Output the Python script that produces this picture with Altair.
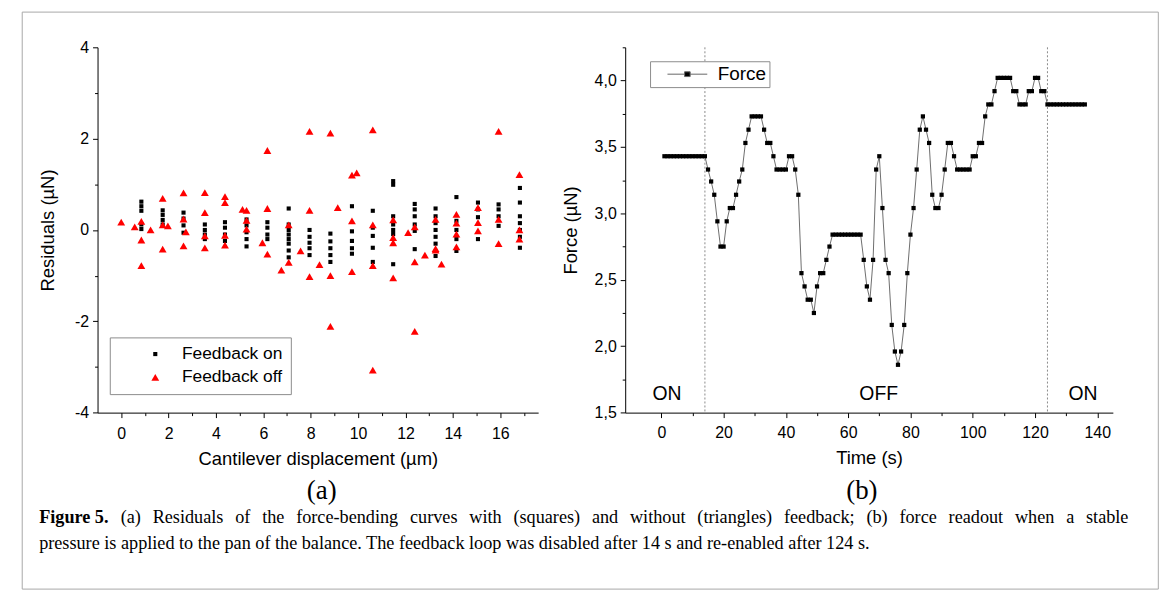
import altair as alt
import pandas as pd

# ---------------- (a) Residuals ----------------
series_a = ["Feedback on", "Feedback off"]

on_x = ([0.85] * 5 + [1.75] * 4 + [2.63] * 4 + [3.53] * 4 + [4.38] * 4 + [5.29] * 5
        + [6.17] * 4 + [7.07] * 8 + [7.95] * 5 + [8.83] * 5 + [9.74] * 5 + [10.62] * 5
        + [11.48] * 7 + [12.39] * 6 + [13.27] * 7 + [14.15] * 5 + [15.06] * 4
        + [15.93] * 4 + [16.83] * 7)
on_y = [0.62, 0.52, 0.42, 0.12, 0.02,
        0.43, 0.33, 0.22, 0.12,
        0.38, 0.25, 0.10, -0.06,
        0.12, 0.00, -0.10, -0.20,
        0.17, 0.05, -0.10, -0.24,
        0.23, 0.10, -0.05, -0.20, -0.36,
        0.17, 0.05, -0.10, -0.20,
        0.47, 0.12, 0.00, -0.10, -0.20, -0.30, -0.45, -0.60,
        0.00, -0.15, -0.28, -0.40, -0.55,
        -0.08, -0.25, -0.40, -0.55, -0.70,
        0.52, -0.03, -0.24, -0.40, -0.52,
        0.42, 0.05, -0.13, -0.39, -0.70,
        1.07, 0.99, 0.30, 0.12, 0.00, -0.09, -0.75,
        0.57, 0.45, 0.30, 0.12, -0.02, -0.42,
        0.47, 0.30, 0.15, 0.00, -0.15, -0.30, -0.57,
        0.72, 0.20, 0.00, -0.20, -0.46,
        0.60, 0.45, 0.28, -0.20,
        0.56, 0.45, 0.30, 0.09,
        0.92, 0.60, 0.30, 0.15, 0.00, -0.15, -0.39]

off_x = [0.00, 0.57, 0.85, 0.85, 0.85, 1.24,
         1.75, 1.75, 1.75, 1.97,
         2.63, 2.63, 2.63, 2.73,
         3.53, 3.53, 3.53, 3.53,
         4.38, 4.38, 4.38, 4.38,
         5.12, 5.29, 5.29, 5.29,
         6.17, 6.17, 6.17, 5.96,
         7.07, 7.07, 6.76, 7.57,
         7.95, 7.95, 7.95, 8.37,
         8.83, 8.83, 8.83, 9.14,
         9.74, 9.74, 9.74, 9.94,
         10.62, 10.62, 10.62, 10.62,
         11.48, 11.48, 11.48, 11.48, 12.11,
         12.39, 12.39, 12.39, 12.82,
         13.27, 13.27, 13.27, 13.52,
         14.15, 14.15, 14.15, 14.15,
         15.06, 15.06, 15.06,
         15.93, 15.93, 15.93,
         16.81, 16.81, 16.81]
off_y = [0.17, 0.07, 0.19, -0.22, -0.78, 0.00,
         0.69, 0.11, -0.42, 0.09,
         0.81, 0.24, -0.35, -0.04,
         0.82, 0.38, -0.13, -0.39,
         0.73, 0.60, -0.12, -0.33,
         0.45, 0.43, 0.21, 0.02,
         1.74, 0.47, -0.53, -0.28,
         0.11, -0.71, -0.88, -0.46,
         2.16, 0.43, -1.02, -0.76,
         2.12, -1.00, -2.11, 0.49,
         1.20, 0.20, -0.91, 1.25,
         2.19, 0.11, -0.78, -3.07,
         0.22, -0.17, -0.28, -1.05, -0.06,
         0.07, -0.70, -2.22, -0.55,
         0.23, -0.41, -0.44, -0.75,
         0.34, 0.15, -0.09, -0.37,
         0.49, 0.16, -0.02,
         2.16, 0.23, -0.30,
         1.21, 0.00, -0.20]

# ---------------- (b) Force readout ----------------
time_s = list(range(1, 137))
force = ([3.43] * 14
         + [3.33, 3.24, 3.14, 2.94, 2.75, 2.75, 2.94, 3.04, 3.04, 3.14, 3.24, 3.33, 3.53, 3.63]
         + [3.73] * 4
         + [3.63, 3.53, 3.53, 3.43]
         + [3.33] * 4
         + [3.43, 3.43, 3.33, 3.14, 2.55, 2.45, 2.35, 2.35, 2.25, 2.45, 2.55, 2.55, 2.65, 2.75]
         + [2.84] * 10
         + [2.65, 2.45, 2.35, 2.65, 3.33, 3.43, 3.04, 2.65, 2.55, 2.16, 1.96, 1.86, 1.96, 2.16,
            2.55, 2.84, 3.04, 3.33, 3.63, 3.73, 3.63, 3.53, 3.14, 3.04, 3.04, 3.14, 3.33,
            3.53, 3.53, 3.43]
         + [3.33] * 5
         + [3.43, 3.43, 3.53, 3.53, 3.73, 3.82, 3.82, 3.92]
         + [4.02] * 5
         + [3.92, 3.92, 3.82, 3.82, 3.82, 3.92, 3.92, 4.02, 4.02, 3.92, 3.92]
         + [3.82] * 13)
switch_t = [14, 124]
state_label = ["ON", "OFF", "ON"]
state_t = [1.8, 69.8, 135.4]
state_f = [1.64, 1.64, 1.64]

x_ticks_a = list(range(0, 18))
y_ticks_a = list(range(-4, 5))
x_ticks_b = list(range(0, 141, 10))
y_ticks_b = [1.5, 1.75, 2.0, 2.25, 2.5, 2.75, 3.0, 3.25, 3.5, 3.75, 4.0, 4.25]

caption_bold = "Figure 5."
caption_1 = ("(a) Residuals of the force-bending curves with (squares) and without "
             "(triangles) feedback; (b) force readout when a stable")
caption_2 = ("pressure is applied to the pan of the balance. The feedback loop was "
             "disabled after 14 s and re-enabled after 124 s.")

SANS = "Liberation Sans"
SERIF = "Liberation Serif"

# ---------------- layout numbers ----------------
WA, HA = 442.9, 367.2
WB, HB = 490.2, 367.2
OX = 96.7          # page x of panel (a) plot origin
CAP_SIZE = 18.3

# Times / Liberation Serif advance widths (1/1000 em) for justifying the first caption line
_REG = {" ": 250, "(": 333, ")": 333, ",": 250, "-": 333, ".": 250, ";": 278,
        "a": 444, "b": 500, "c": 444, "d": 500, "e": 444, "f": 333, "g": 500, "h": 500,
        "i": 278, "j": 278, "k": 500, "l": 278, "m": 778, "n": 500, "o": 500, "p": 500,
        "q": 500, "r": 333, "s": 389, "t": 278, "u": 500, "v": 500, "w": 722, "x": 500,
        "y": 500, "z": 444, "R": 667, "T": 611}
_BOLD = {"F": 611, "i": 278, "g": 500, "u": 556, "r": 444, "e": 444, " ": 250, "5": 500, ".": 250}


def _w(s, table):
    return sum(table.get(c, 500) for c in s) * CAP_SIZE / 1000.0


line1_left, line1_right = 38.0, 1133.0
words1 = caption_1.split(" ")
wb = _w(caption_bold, _BOLD)
ww = [_w(w, _REG) for w in words1]
gap = (line1_right - line1_left - wb - sum(ww)) / len(words1)
pos = []
cur = line1_left + wb + gap
for w in ww:
    pos.append(cur - OX)
    cur += w + gap
words_df = pd.DataFrame({"word": words1, "px": pos})

# ---------------- panel (a) ----------------
dfA = pd.DataFrame({
    "x": on_x + off_x,
    "y": on_y + off_y,
    "series": ["Feedback on"] * len(on_x) + ["Feedback off"] * len(off_x),
})

axA_x = alt.Axis(
    values=x_ticks_a,
    labelExpr="datum.value % 2 === 0 ? '' + datum.value : ''",
    tickSize={"condition": {"test": "datum.value % 2 === 0", "value": 5}, "value": 3},
    title="Cantilever displacement (µm)", titlePadding=8, labelPadding=8,
)
axA_y = alt.Axis(
    values=y_ticks_a,
    labelExpr="datum.value % 2 === 0 ? (datum.value < 0 ? '-' + abs(datum.value) : '' + datum.value) : ''",
    tickSize={"condition": {"test": "datum.value % 2 === 0", "value": 5}, "value": 3},
    title="Residuals (µN)", titlePadding=17, labelPadding=4,
)
legA = alt.Legend(
    orient="none", legendX=12.3, legendY=291.6, strokeColor="#8c8c8c", fillColor="white",
    padding=8, labelFontSize=17.5, labelFont=SANS, labelColor="black",
    symbolOffset=29, labelOffset=18, rowPadding=4.5, symbolSize=45, symbolStrokeWidth=0,
)

ptsA = alt.Chart(dfA).mark_point(filled=True, opacity=1).encode(
    x=alt.X("x:Q", scale=alt.Scale(domain=[-1, 17.6], nice=False, zero=False), axis=axA_x),
    y=alt.Y("y:Q", scale=alt.Scale(domain=[-4, 4], nice=False, zero=False), axis=axA_y),
    color=alt.Color("series:N", scale=alt.Scale(domain=series_a, range=["#000000", "#ff0000"]),
                    legend=legA, title=None),
    shape=alt.Shape("series:N", scale=alt.Scale(domain=series_a, range=["square", "triangle-up"]),
                    legend=legA, title=None),
    size=alt.Size("series:N", scale=alt.Scale(domain=series_a, range=[17, 62]), legend=None),
)

one = pd.DataFrame({"k": [0]})
frame = alt.Chart(one).mark_rect(fillOpacity=0, stroke="#a8a8a8", strokeWidth=1).encode(
    x=alt.value(21 - OX), x2=alt.value(1163 - OX), y=alt.value(-35.4), y2=alt.value(544.6)
)


def txt(s, x, y, size, font, weight="normal", align="left"):
    return alt.Chart(one).mark_text(
        text=s, font=font, fontSize=size, fontWeight=weight, align=align,
        baseline="middle", color="black"
    ).encode(x=alt.value(x), y=alt.value(y))


capB = txt(caption_bold, line1_left - OX, 473.6, CAP_SIZE, SERIF, "bold")
cap1 = alt.Chart(words_df).mark_text(
    font=SERIF, fontSize=CAP_SIZE, align="left", baseline="middle", color="black"
).encode(x=alt.X("px:Q", scale=None), y=alt.value(473.6), text="word:N")
cap2 = txt(caption_2, line1_left - OX, 499.6, CAP_SIZE, SERIF)
lab_a = txt("(a)", 225.3, 445.6, 27, SERIF, align="center")
lab_b = txt("(b)", 768.3, 445.6, 27, SERIF, align="center")

panelA = alt.layer(frame, ptsA, capB, cap1, cap2, lab_a, lab_b).properties(width=WA, height=HA)

# ---------------- panel (b) ----------------
dfB = pd.DataFrame({"t": time_s, "f": force, "series": ["Force"] * len(time_s)})

axB_x = alt.Axis(
    values=x_ticks_b,
    labelExpr="datum.value % 20 === 0 ? '' + datum.value : ''",
    tickSize={"condition": {"test": "datum.value % 20 === 0", "value": 5}, "value": 3},
    title="Time (s)", titlePadding=8, labelPadding=7,
)
axB_y = alt.Axis(
    values=y_ticks_b,
    labelExpr="(datum.value * 2) % 1 === 0 ? replace(format(datum.value, '.1f'), '.', ',') : ''",
    tickSize={"condition": {"test": "(datum.value * 2) % 1 === 0", "value": 5}, "value": 3},
    title="Force (µN)", titlePadding=14, labelPadding=4,
)
scB_x = alt.Scale(domain=[-11.6, 145], nice=False, zero=False)
scB_y = alt.Scale(domain=[1.5, 4.25], nice=False, zero=False)

legB = alt.Legend(
    orient="none", legendX=25, legendY=14, strokeColor="#8c8c8c", fillColor="white",
    padding=3, labelFontSize=19, labelFont=SANS, labelColor="black",
    symbolType="M-1,0H-0.14M0.14,0H1M-0.14,-0.12H0.14V0.12H-0.14Z",
    symbolSize=1600, symbolStrokeColor="#666666", symbolStrokeWidth=1,
    symbolFillColor="black", symbolOffset=14, labelOffset=10, clipHeight=20,
)

lineB = alt.Chart(dfB).mark_line(color="#6e6e6e", strokeWidth=1).encode(
    x=alt.X("t:Q", scale=scB_x, axis=axB_x),
    y=alt.Y("f:Q", scale=scB_y, axis=axB_y),
)
ptsB = alt.Chart(dfB).mark_point(shape="square", filled=True, size=18, opacity=1).encode(
    x=alt.X("t:Q", scale=scB_x, axis=axB_x),
    y=alt.Y("f:Q", scale=scB_y, axis=axB_y),
    color=alt.Color("series:N", scale=alt.Scale(domain=["Force"], range=["#000000"]),
                    legend=legB, title=None),
)
rulesB = alt.Chart(pd.DataFrame({"t": switch_t})).mark_rule(
    color="#8a8a8a", strokeDash=[2, 2], strokeWidth=1
).encode(x=alt.X("t:Q", scale=scB_x, axis=axB_x))
stateB = alt.Chart(pd.DataFrame({"t": state_t, "f": state_f, "label": state_label})).mark_text(
    font=SANS, fontSize=19.5, color="black", baseline="middle", align="center"
).encode(
    x=alt.X("t:Q", scale=scB_x, axis=axB_x),
    y=alt.Y("f:Q", scale=scB_y, axis=axB_y),
    text="label:N",
)

panelB = alt.layer(rulesB, lineB, ptsB, stateB).properties(width=WB, height=HB)

chart = (
    alt.hconcat(panelA, panelB, spacing=87.4, bounds="flush")
    .resolve_scale(color="independent", shape="independent", size="independent")
    .properties(padding={"left": 13, "top": 2, "right": 4, "bottom": 4}, background="white")
    .configure_view(strokeWidth=0)
    .configure_axis(
        grid=False, domainColor="black", domainWidth=1, tickColor="black", tickWidth=1,
        labelFont=SANS, labelFontSize=16, labelColor="black",
        titleFont=SANS, titleFontSize=18.5, titleFontWeight="normal", titleColor="black",
    )
)

chart.save("out.html", embed_options={"renderer": "svg", "actions": False})
